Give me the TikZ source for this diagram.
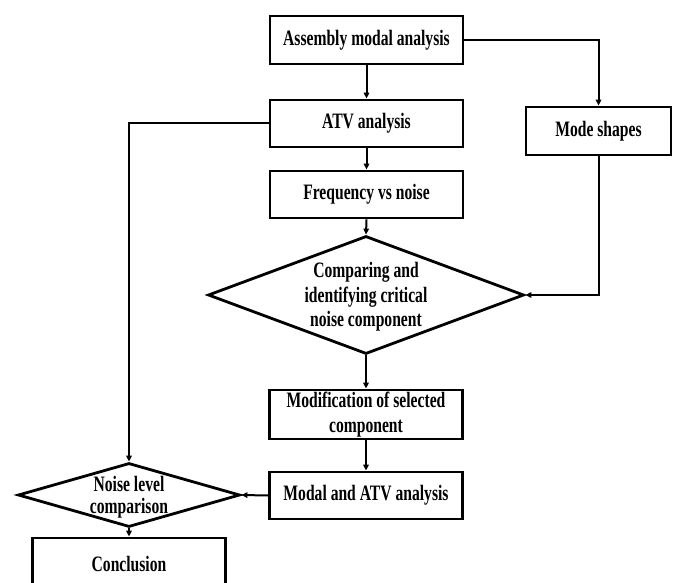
\documentclass[tikz,border=0pt]{standalone}
\usepackage{fontspec}
\setmainfont{Liberation Serif}[FakeStretch=0.71]
\usetikzlibrary{shapes.geometric,arrows.meta}
\begin{document}
\begin{tikzpicture}[x=1pt,y=-1pt,
  lbl/.style={font=\fontsize{22}{24.5}\selectfont\bfseries, align=center, inner sep=0pt},
  box/.style={lbl, draw, line width=2.8pt, minimum width=193pt, minimum height=47pt},
  dia/.style={draw, diamond, line width=2.8pt, inner sep=0pt},
  arr/.style={line width=2pt, -{Triangle[length=6pt,width=5.5pt]}}
]
\useasboundingbox (0,0) rectangle (678,583);
\clip (0,0) rectangle (678,583);

\node[box, minimum height=48pt] (asm) at (366.5,40) {Assembly modal analysis};
\node[box] (atv) at (366.5,123.5) {ATV analysis};
\node[box] (frq) at (366.5,194.5) {Frequency vs noise};
\node[box, minimum width=145pt, minimum height=48pt] (mode) at (598.5,131) {Mode shapes};

\node[dia, minimum width=316pt, minimum height=118pt] (cmp) at (366,295) {};
\node[lbl] (cmpt) at (366,297) {Comparing and\\identifying critical\\noise component};

\node[box, minimum height=49pt] (mod) at (366,414.5) {Modification of selected\\component};
\node[box] (mat) at (366,495.5) {Modal and ATV analysis};

\node[dia, minimum width=222pt, minimum height=64pt] (nlc) at (129,495) {};
\node[lbl, font=\fontsize{22}{22}\selectfont\bfseries] (nlct) at (129,497) {Noise level\\comparison};

\node[box, minimum height=52pt] (con) at (129,564) {Conclusion};

\draw[arr] (asm.south) -- (atv.north);
\draw[arr] (atv.south) -- (frq.north);
\draw[arr] (asm.east) -| (mode.north);
\draw[arr] (mode.south) |- (cmp.east);
\draw[arr] (frq.south) -- (cmp.north);
\draw[arr] (cmp.south) -- (mod.north);
\draw[arr] (mod.south) -- (mat.north);
\draw[arr] (mat.west) -- (nlc.east);
\draw[arr] (atv.west) -| (nlc.north);
\draw[arr] (nlc.south) -- (con.north);
\end{tikzpicture}
\end{document}
